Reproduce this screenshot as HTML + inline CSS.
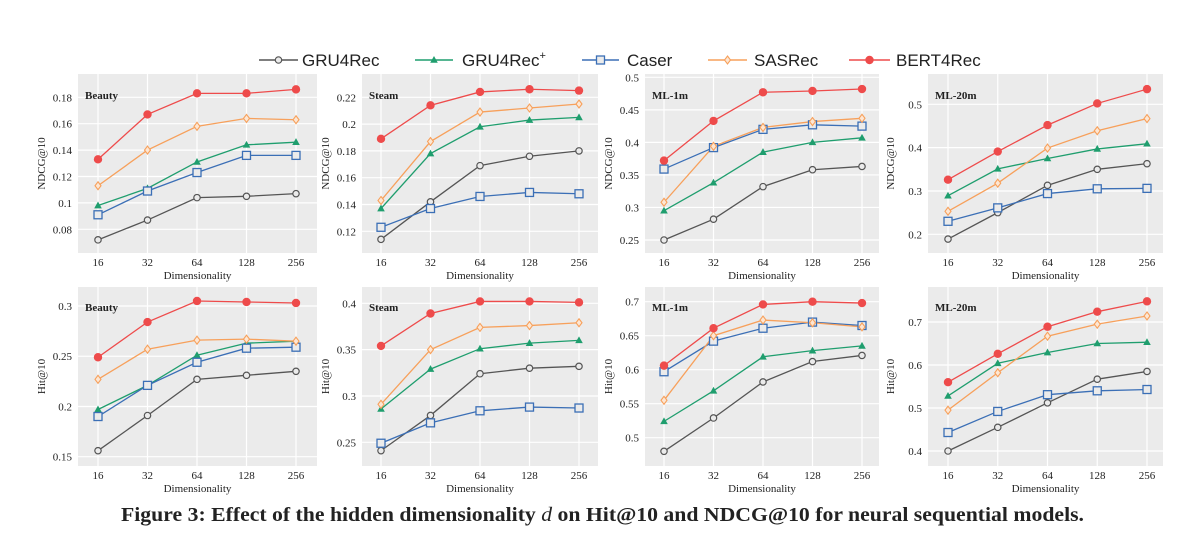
<!DOCTYPE html>
<html><head><meta charset="utf-8"><style>
body{margin:0;background:#fff;width:1200px;height:549px;overflow:hidden}
svg{display:block}
text{font-family:"Liberation Serif",serif;fill:#222}
</style></head><body>
<svg id="fig" width="1200" height="549"></svg>
<script>
const dims = ["16","32","64","128","256"];
const seriesNames = ["GRU4Rec","GRU4Rec+","Caser","SASRec","BERT4Rec"];
const colors = ["#555555","#1f9e6e","#3b6fb6","#f7a05b","#ee4b4b"];
// panel data: [GRU4Rec, GRU4Rec+, Caser, SASRec, BERT4Rec]
const beautyNdcg = [[0.072,0.087,0.104,0.105,0.107],[0.098,0.111,0.131,0.144,0.146],[0.091,0.109,0.123,0.136,0.136],[0.113,0.140,0.158,0.164,0.163],[0.133,0.167,0.183,0.183,0.186]];
const steamNdcg = [[0.114,0.142,0.169,0.176,0.180],[0.137,0.178,0.198,0.203,0.205],[0.123,0.137,0.146,0.149,0.148],[0.143,0.187,0.209,0.212,0.215],[0.189,0.214,0.224,0.226,0.225]];
const ml1mNdcg = [[0.250,0.282,0.332,0.358,0.363],[0.295,0.338,0.385,0.400,0.407],[0.359,0.392,0.420,0.427,0.425],[0.308,0.394,0.423,0.432,0.437],[0.372,0.433,0.477,0.479,0.482]];
const ml20mNdcg = [[0.189,0.250,0.313,0.350,0.363],[0.289,0.351,0.375,0.397,0.409],[0.230,0.261,0.294,0.305,0.306],[0.253,0.318,0.399,0.439,0.467],[0.326,0.391,0.452,0.502,0.535]];
const beautyHit = [[0.156,0.191,0.227,0.231,0.235],[0.197,0.221,0.251,0.263,0.265],[0.190,0.221,0.244,0.258,0.259],[0.227,0.257,0.266,0.267,0.265],[0.249,0.284,0.305,0.304,0.303]];
const steamHit = [[0.241,0.279,0.324,0.330,0.332],[0.286,0.329,0.351,0.357,0.360],[0.249,0.271,0.284,0.288,0.287],[0.291,0.350,0.374,0.376,0.379],[0.354,0.389,0.402,0.402,0.401]];
const ml1mHit = [[0.480,0.529,0.582,0.612,0.621],[0.524,0.569,0.619,0.628,0.635],[0.597,0.642,0.661,0.670,0.665],[0.555,0.650,0.673,0.669,0.663],[0.606,0.661,0.696,0.700,0.698]];
const ml20mHit = [[0.400,0.455,0.512,0.567,0.585],[0.528,0.604,0.629,0.650,0.653],[0.443,0.492,0.531,0.540,0.543],[0.495,0.582,0.667,0.695,0.714],[0.560,0.626,0.689,0.724,0.748]];
const ticks1 = ["0.08","0.1","0.12","0.14","0.16","0.18"];
const ticks2 = ["0.12","0.14","0.16","0.18","0.2","0.22"];
const ticks3 = ["0.25","0.3","0.35","0.4","0.45","0.5"];
const ticks4 = ["0.2","0.3","0.4","0.5"];
const ticks5 = ["0.15","0.2","0.25","0.3"];
const ticks6 = ["0.25","0.3","0.35","0.4"];
const ticks7 = ["0.5","0.55","0.6","0.65","0.7"];
const ticks8 = ["0.4","0.5","0.6","0.7"];

const NS="http://www.w3.org/2000/svg";
const svg=document.getElementById('fig');
function mk(tag,attrs,parent){const e=document.createElementNS(NS,tag);for(const k in attrs)e.setAttribute(k,attrs[k]);(parent||svg).appendChild(e);return e;}

const colX=[[78,317,98,296],[362,598,381,579],[645,879,664,862],[928,1163,948,1147]];
const panels=[
 {name:"Beauty",key:"beauty-ndcg",d:beautyNdcg,t:ticks1,row:0,col:0,ref:[0.18,97.3,0.08,229.3],yl:"NDCG@10"},
 {name:"Steam",key:"steam-ndcg",d:steamNdcg,t:ticks2,row:0,col:1,ref:[0.22,97.3,0.12,231.3],yl:"NDCG@10"},
 {name:"ML-1m",key:"ml1m-ndcg",d:ml1mNdcg,t:ticks3,row:0,col:2,ref:[0.5,77.3,0.25,240],yl:"NDCG@10"},
 {name:"ML-20m",key:"ml20m-ndcg",d:ml20mNdcg,t:ticks4,row:0,col:3,ref:[0.5,104.3,0.2,234.3],yl:"NDCG@10"},
 {name:"Beauty",key:"beauty-hit",d:beautyHit,t:ticks5,row:1,col:0,ref:[0.3,306,0.15,456.7],yl:"Hit@10"},
 {name:"Steam",key:"steam-hit",d:steamHit,t:ticks6,row:1,col:1,ref:[0.4,303.3,0.25,442.3],yl:"Hit@10"},
 {name:"ML-1m",key:"ml1m-hit",d:ml1mHit,t:ticks7,row:1,col:2,ref:[0.7,301.7,0.5,437.7],yl:"Hit@10"},
 {name:"ML-20m",key:"ml20m-hit",d:ml20mHit,t:ticks8,row:1,col:3,ref:[0.7,322,0.4,451],yl:"Hit@10"}
];

function marker(g,i,x,y,c){
  let m;
  if(i===0) m=mk('circle',{cx:x,cy:y,r:3.2,fill:'#ebebeb',stroke:c,'stroke-width':1.2},g);
  else if(i===1) m=mk('polygon',{points:`${x},${y-4} ${x-3.8},${y+2.8} ${x+3.8},${y+2.8}`,fill:c},g);
  else if(i===2) m=mk('rect',{x:x-4,y:y-4,width:8,height:8,fill:'#ebebeb',stroke:c,'stroke-width':1.3},g);
  else if(i===3) m=mk('polygon',{points:`${x},${y-4} ${x+3},${y} ${x},${y+4} ${x-3},${y}`,fill:'#fde7d4',stroke:c,'stroke-width':1.1},g);
  else m=mk('circle',{cx:x,cy:y,r:4.2,fill:c},g);
  return m;
}

panels.forEach(p=>{
  const [L,R,x0,x1]=colX[p.col];
  const T=p.row?287:74, B=p.row?466:253;
  const [v0,p0,v1,p1]=p.ref;
  const ys=v=>p0+(v-v0)*(p1-p0)/(v1-v0);
  const xs=i=>x0+i*(x1-x0)/(dims.length-1);
  const g=mk('g',{});
  
  
  const bg=mk('rect',{x:L,y:T,width:R-L,height:B-T,fill:'#ebebeb'},g);
  
  
  p.t.forEach(t=>{const y=ys(parseFloat(t));
    mk('line',{x1:L,x2:R,y1:y,y2:y,stroke:'#fff','stroke-width':1.2},g);
    const tl=mk('text',{x:L-6,y:y+4,'text-anchor':'end','font-size':11},g);tl.textContent=t;
    
    
  });
  dims.forEach((d,i)=>{const x=xs(i);
    mk('line',{x1:x,x2:x,y1:T,y2:B,stroke:'#fff','stroke-width':1.2},g);
    const tl=mk('text',{x:x,y:B+13,'text-anchor':'middle','font-size':11},g);tl.textContent=d;
    
    
  });
  const xt=mk('text',{x:(L+R)/2,y:B+26,'text-anchor':'middle','font-size':11},g);xt.textContent="Dimensionality";
  
  
  const yx=L-(p.col===3?34:33), yc=(T+B)/2;
  const yt=mk('text',{x:yx,y:yc,'text-anchor':'middle','font-size':11,transform:`rotate(-90 ${yx} ${yc})`},g);yt.textContent=p.yl;
  
  
  const nt=mk('text',{x:L+7,y:T+(p.row?24:25),'font-size':11,'font-weight':'bold'},g);nt.textContent=p.name;
  
  
  p.d.forEach((s,si)=>{
    const pts=s.map((v,i)=>xs(i)+','+ys(v)).join(' ');
    const ln=mk('polyline',{points:pts,fill:'none',stroke:colors[si],'stroke-width':1.3},g);
    
    
  });
  p.d.forEach((s,si)=>{
    s.forEach((v,i)=>{const m=marker(g,si,xs(i),ys(v),colors[si]);
      
      });
  });
});

// legend
const legX=[[259,298,302],[415,453,462],[582,619,627],[708,747,754],[849,890,896]];
const lg=mk('g',{});


seriesNames.forEach((n,i)=>{
  const [a,b,t]=legX[i];const y=60;
  const e=mk('g',{},lg);
  
  
  mk('line',{x1:a,x2:b,y1:y,y2:y,stroke:colors[i],'stroke-width':1.6},e);
  marker(e,i,(a+b)/2,y,colors[i]);
  const tx=mk('text',{x:t,y:y+6,'font-size':17,style:'font-family:"Liberation Sans",sans-serif'},e);
  if(i===1){tx.textContent="GRU4Rec";const s=mk('tspan',{dy:-7,'font-size':11},tx);s.textContent="+";}
  else tx.textContent=n;
});

const cap=mk('text',{x:121,y:521,'font-size':20,'font-weight':'bold',textLength:963,lengthAdjust:'spacingAndGlyphs'});


cap.innerHTML='Figure 3: Effect of the hidden dimensionality <tspan font-style="italic" font-weight="normal">d</tspan> on Hit@10 and NDCG@10 for neural sequential models.';
</script>
</body></html>
